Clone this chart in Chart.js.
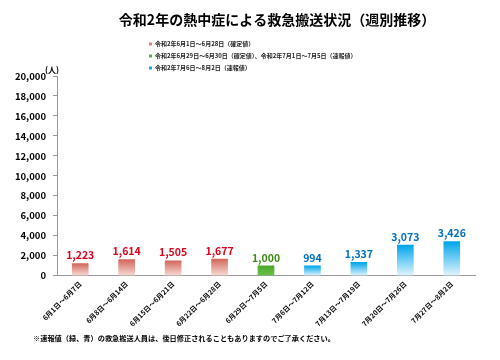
<!DOCTYPE html>
<html><head><meta charset="utf-8">
<script src="https://cdn.jsdelivr.net/npm/chart.js@4/dist/chart.umd.min.js"></script>
<style>html,body{margin:0;padding:0;background:#fff}#wrap{width:500px;height:360px;position:relative}</style>
</head><body><div id="wrap"><canvas id="c" width="500" height="360"></canvas></div>
<script>
const titleText = '令和2年の熱中症による救急搬送状況（週別推移）';
const categories = ['6月1日～6月7日','6月8日～6月14日','6月15日～6月21日','6月22日～6月28日','6月29日～7月5日','7月6日～7月12日','7月13日～7月19日','7月20日～7月26日','7月27日～8月2日'];
const values = [1223,1614,1505,1677,1000,994,1337,3073,3426];
const groups = [0,0,0,0,1,2,2,2,2];
const legendLabels = ['令和2年6月1日～6月28日（確定値）','令和2年6月29日～6月30日（確定値）、令和2年7月1日～7月5日（速報値）','令和2年7月6日～8月2日（速報値）'];
const yTicks = [0,2000,4000,6000,8000,10000,12000,14000,16000,18000,20000];
const unitLabel = '(人)';
const footnote = '※速報値（緑、青）の救急搬送人員は、後日修正されることもありますのでご了承ください。';

const FONT = "'Noto Sans CJK JP','Noto Sans',sans-serif";
const topCol = ['#d2675b','#4aa82a','#00a6ea'];
const botCol = ['#f8dcd6','#6cc24a','#e4f5fd'];
const labelCol = ['#e0001a','#3f8a14','#0070c0'];
const legendCol = ['#e0807a','#5cb03a','#1aa8e8'];

const extras = {
  id:'extras',
  afterDatasetsDraw(chart){
    const c = chart.ctx;
    const meta = chart.getDatasetMeta(0);
    c.save();
    c.font = 'bold 10.5px ' + FONT;
    c.textAlign='center'; c.textBaseline='bottom';
    meta.data.forEach((bar,i)=>{
      c.fillStyle = labelCol[groups[i]];
      c.fillText(values[i].toLocaleString('en-US'), bar.x, bar.y-3);
    });
    c.restore();
  },
  afterDraw(chart){
    const c = chart.ctx;
    c.save();
    c.fillStyle='#000';
    c.font='bold 14px ' + FONT;
    c.textAlign='center'; c.textBaseline='middle';
    c.fillText(titleText, 277, 20);
    c.font='bold 6px ' + FONT;
    c.textAlign='left';
    legendLabels.forEach((t,i)=>{
      const y = 44 + i*12;
      c.fillStyle = legendCol[i];
      c.fillRect(149, y-1.5, 3, 3);
      c.fillStyle='#222';
      c.fillText(t, 155, y);
    });
    c.font='bold 8px ' + FONT;
    c.fillStyle='#000';
    c.fillText(unitLabel, 45, 70);
    c.font='bold 7.2px ' + FONT;
    c.fillText(footnote, 33, 338);
    c.restore();
  }
};

function barGradient(ctx){
  const chart = ctx.chart;
  const g = groups[ctx.dataIndex];
  if(!chart.chartArea || !chart.scales.y) return topCol[g];
  const y0 = chart.scales.y.getPixelForValue(values[ctx.dataIndex]);
  const y1 = chart.scales.y.getPixelForValue(0);
  const grad = chart.ctx.createLinearGradient(0,y0,0,y1);
  grad.addColorStop(0, topCol[g]);
  grad.addColorStop(1, botCol[g]);
  return grad;
}

new Chart(document.getElementById('c'), {
  type:'bar',
  data:{labels:categories, datasets:[{data:values, backgroundColor:barGradient, barThickness:16, borderWidth:0}]},
  options:{
    responsive:false, animation:false, devicePixelRatio:1,
    layout:{padding:{top:76, right:25, left:12, bottom:28}},
    plugins:{legend:{display:false}, title:{display:false}, tooltip:{enabled:false}},
    scales:{
      x:{
        grid:{display:false, drawTicks:false},
        border:{display:true, color:'#999', width:1},
        ticks:{color:'#000', font:{family:FONT, size:7, weight:'bold'}, maxRotation:45, minRotation:45, padding:4, autoSkip:false}
      },
      y:{
        min:0, max:20000,
        afterBuildTicks(s){ s.ticks = yTicks.map(v=>({value:v})); },
        afterFit(s){ s.width = 45; },
        grid:{display:true, drawOnChartArea:false, drawTicks:true, tickLength:4, color:'#999'},
        border:{display:true, color:'#999', width:1},
        ticks:{color:'#000', font:{family:FONT, size:9.5, weight:'bold'}, padding:7, callback:v=>v.toLocaleString('en-US')}
      }
    }
  },
  plugins:[extras]
});
</script></body></html>
